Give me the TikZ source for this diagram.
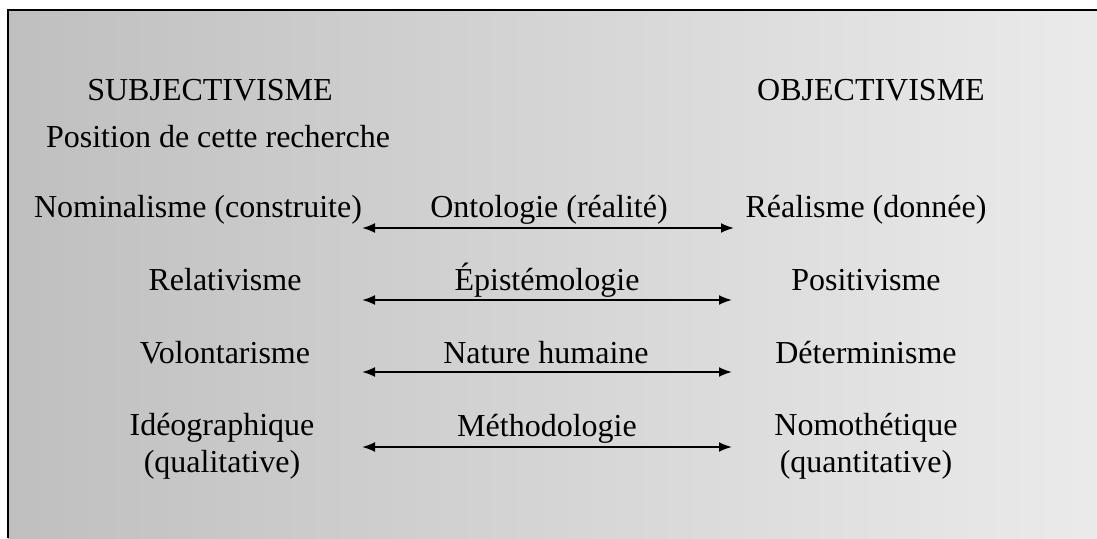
\documentclass[tikz,border=0pt]{standalone}
\usepackage{fontspec}
\setmainfont{Liberation Serif}
\usetikzlibrary{arrows.meta}
\begin{document}
\begin{tikzpicture}[
      x=1pt, y=-1pt,
      label/.style={anchor=base, inner sep=0pt, font=\fontsize{32}{37}\selectfont},
      twoline/.style={label, align=center},
      link/.style={line width=2pt, {Latex[length=13pt,width=10pt]}-{Latex[length=13pt,width=10pt]}}
    ]
    \useasboundingbox (0,0) rectangle (1097,538);
    % grey background and frame
    \shade[left color=black!25, middle color=black!21, right color=black!8] (8,10) rectangle (1097,538);
    \draw[line width=2.6pt] (1097,10) -- (8,10) -- (8,538);
    % headings
    \node[label] (subj) at (210,100) {SUBJECTIVISME};
    \node[label] (obj) at (871,100) {OBJECTIVISME};
    \node[label] (pos) at (218,147) {Position de cette recherche};
    % left column
    \node[label] (nomi) at (198,217) {Nominalisme (construite)};
    \node[label] (rela) at (225,290) {Relativisme};
    \node[label] (volo) at (225,363) {Volontarisme};
    \node[twoline] (ideo) at (222,472) {Idéographique\\(qualitative)};
    % middle column
    \node[label] (onto) at (549,217) {Ontologie (réalité)};
    \node[label] (epis) at (547,290) {Épistémologie};
    \node[label] (natu) at (546,363) {Nature humaine};
    \node[label] (meth) at (547,436) {Méthodologie};
    % right column
    \node[label] (real) at (866,217) {Réalisme (donnée)};
    \node[label] (posi) at (866,290) {Positivisme};
    \node[label] (dete) at (866,363) {Déterminisme};
    \node[twoline] (nomo) at (866,472) {Nomothétique\\(quantitative)};
    % arrows
    \coordinate (ontoL) at (362,228);
    \coordinate (ontoR) at (734,228);
    \coordinate (episL) at (362,300);
    \coordinate (episR) at (732,300);
    \coordinate (natuL) at (362,372);
    \coordinate (natuR) at (732,372);
    \coordinate (methL) at (362,447);
    \coordinate (methR) at (732,447);
    \draw[link] (ontoL) -- (ontoR);
    \draw[link] (episL) -- (episR);
    \draw[link] (natuL) -- (natuR);
    \draw[link] (methL) -- (methR);
  \end{tikzpicture}
\end{document}
